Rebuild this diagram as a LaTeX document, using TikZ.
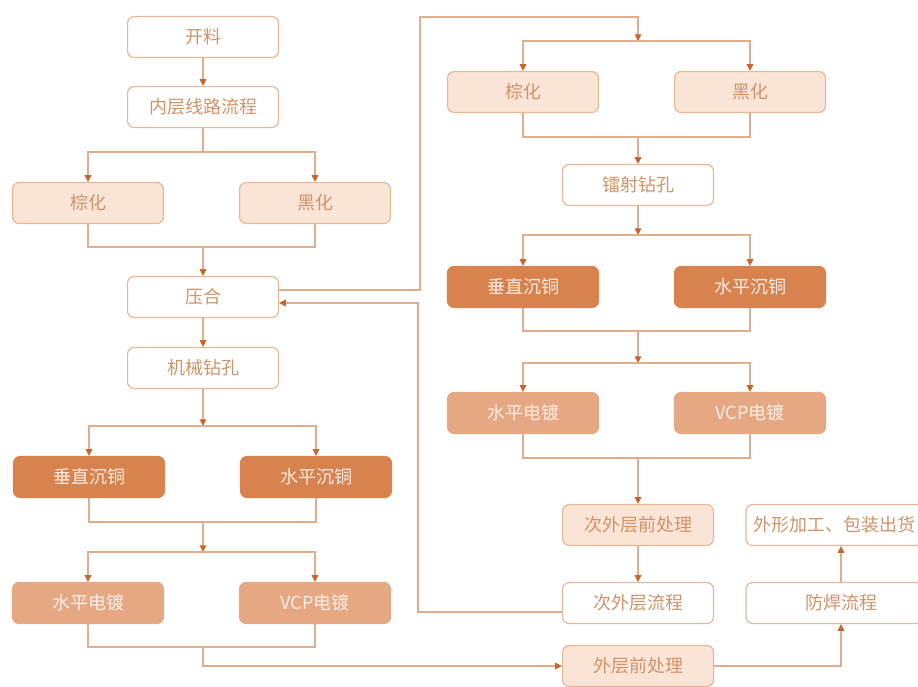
\documentclass[tikz,border=0pt]{standalone}
\usepackage{fontspec}
\setmainfont{Noto Sans CJK SC}
\usetikzlibrary{arrows.meta,calc}
\definecolor{linec}{HTML}{E2AD8C}
\definecolor{tipc}{HTML}{C8662E}
\definecolor{bordc}{HTML}{E9B899}
\definecolor{lightf}{HTML}{F9E4D6}
\definecolor{darkf}{HTML}{D8824E}
\definecolor{midf}{HTML}{E6A882}
\definecolor{txtc}{HTML}{D0946B}
\begin{document}
\begin{tikzpicture}[x=0.75pt,y=-0.75pt,
 box/.style={draw=bordc,line width=0.9pt,rounded corners=5pt,minimum width=113.25pt,minimum height=30.75pt,inner sep=0pt,font=\fontsize{13.5}{16}\selectfont,text=txtc},
 wbox/.style={box,fill=white},
 lbox/.style={box,fill=lightf},
 dbox/.style={box,fill=darkf,draw=darkf,text=white!85!darkf},
 mbox/.style={box,fill=midf,draw=midf,text=white!80!midf},
 widebox/.style={wbox,minimum width=142.5pt},
 conn/.style={draw=linec,line width=0.8pt},
 arr/.style={conn,-{Triangle[length=5pt,width=5pt,color=tipc]}}
]
\useasboundingbox (0,0) rectangle (918,686);
\clip (0,0) rectangle (918,686);
\fill[white] (0,0) rectangle (918,686);

% left column
\node[wbox] (open) at (203,37) {开料};
\node[wbox] (inner) at (203,107) {内层线路流程};
\node[lbox] (b1) at (88,203) {棕化};
\node[lbox] (h1) at (315,203) {黑化};
\node[wbox] (press) at (203,297) {压合};
\node[wbox] (mech) at (203,368) {机械钻孔};
\node[dbox] (v1) at (89,477) {垂直沉铜};
\node[dbox] (hz1) at (316,477) {水平沉铜};
\node[mbox] (he1) at (88,603) {水平电镀};
\node[mbox] (vcp1) at (315,603) {VCP电镀};

% right column
\node[lbox] (b2) at (523,92) {棕化};
\node[lbox] (h2) at (750,92) {黑化};
\node[wbox] (laser) at (638,185) {镭射钻孔};
\node[dbox] (v2) at (523,287) {垂直沉铜};
\node[dbox] (hz2) at (750,287) {水平沉铜};
\node[mbox] (he2) at (523,413) {水平电镀};
\node[mbox] (vcp2) at (750,413) {VCP电镀};
\node[lbox] (pre2) at (638,525) {次外层前处理};
\node[wbox] (sub) at (638,603) {次外层流程};
\node[lbox] (outer) at (638,666) {外层前处理};
\node[widebox] (sm) at (841,603) {防焊流程};
\node[widebox,text width=132pt,align=left] (shape) at (841,525) {外形加工、包装出货};

% coordinates
\coordinate (s1) at (203,152);
\coordinate (m1) at (203,247);
\coordinate (t1) at (420,17);
\coordinate (s2) at (638,41);
\coordinate (m2) at (638,137);
\coordinate (s3) at (638,235);
\coordinate (m3) at (638,331);
\coordinate (s4) at (638,363);
\coordinate (m4) at (638,458);
\coordinate (r1) at (418,303);
\coordinate (s5) at (203,426);
\coordinate (m5) at (203,522);
\coordinate (s6) at (203,552);
\coordinate (m6) at (203,647);

% left connectors
\draw[arr] (open) -- (inner);
\draw[conn] (inner) -- (s1);
\draw[arr] (s1) -| (b1);
\draw[arr] (s1) -| (h1);
\draw[conn] (b1.south) |- (m1) -| (h1.south);
\draw[arr] (m1) -- (press);
\draw[arr] (press) -- (mech);
\draw[arr] (mech) -- (s5);
\draw[arr] (s5) -| (v1);
\draw[arr] (s5) -| (hz1);
\draw[conn] (v1.south) |- (m5) -| (hz1.south);
\draw[arr] (m5) -- (s6);
\draw[arr] (s6) -| (he1);
\draw[arr] (s6) -| (vcp1);
\draw[conn] (he1.south) |- (m6) -| (vcp1.south);
\draw[arr] (m6) |- (outer);

% loop to right column
\draw[arr] ($(press.east)+(0,-7)$) -| (t1) -| (s2);
\draw[arr] (s2) -| (b2);
\draw[arr] (s2) -| (h2);
\draw[conn] (b2.south) |- (m2) -| (h2.south);
\draw[arr] (m2) -- (laser);
\draw[arr] (laser) -- (s3);
\draw[arr] (s3) -| (v2);
\draw[arr] (s3) -| (hz2);
\draw[conn] (v2.south) |- (m3) -| (hz2.south);
\draw[arr] (m3) -- (s4);
\draw[arr] (s4) -| (he2);
\draw[arr] (s4) -| (vcp2);
\draw[conn] (he2.south) |- (m4) -| (vcp2.south);
\draw[arr] (m4) -- (pre2);
\draw[arr] (pre2) -- (sub);
\draw[arr] ($(sub.west)+(0,9)$) -| (r1) -- ($(press.east)+(0,6)$);

% final
\draw[arr] (outer) -| (sm);
\draw[arr] (sm) -- (shape);
\end{tikzpicture}
\end{document}
